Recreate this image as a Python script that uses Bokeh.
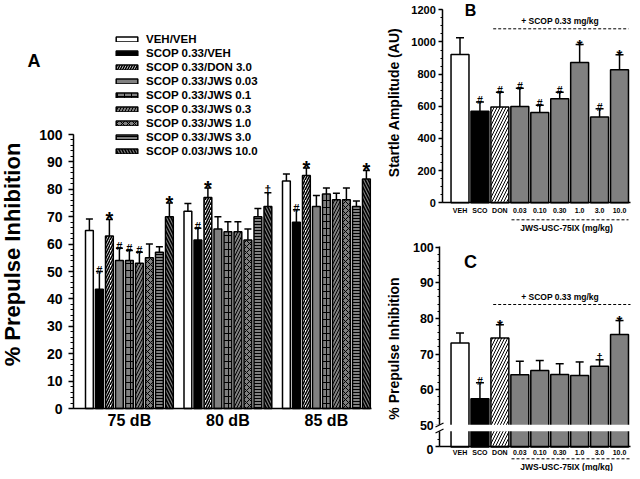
import math
from bokeh.plotting import figure
from bokeh.models import (ColumnDataSource, Range1d, LinearAxis, FixedTicker,
                          SingleIntervalTicker, Whisker, TeeHead, Legend,
                          LegendItem, Label, BoxAnnotation)
from bokeh.layouts import row, column
from bokeh.embed import file_html
from bokeh.resources import INLINE
from bokeh.core.properties import value

FONT = "Liberation Sans"

# ---------------- data ----------------
# Panel A: % prepulse inhibition by prepulse intensity
groups_A = ["75 dB", "80 dB", "85 dB"]
series_A = ["VEH/VEH", "SCOP 0.33/VEH", "SCOP 0.33/DON 3.0", "SCOP 0.33/JWS 0.03",
            "SCOP 0.33/JWS 0.1", "SCOP 0.33/JWS 0.3", "SCOP 0.33/JWS 1.0",
            "SCOP 0.33/JWS 3.0", "SCOP 0.03/JWS 10.0"]
ppi_75 = [65.0, 43.5, 63.0, 54.0, 54.0, 53.0, 55.0, 57.0, 70.0]
sem_75 = [4.2, 6.5, 6.0, 4.5, 3.7, 4.0, 5.0, 2.0, 5.0]
ppi_80 = [72.0, 61.5, 77.0, 65.5, 64.5, 64.5, 61.5, 70.0, 73.7]
sem_80 = [2.8, 4.3, 3.5, 4.5, 3.7, 3.7, 4.0, 3.0, 5.0]
ppi_85 = [83.0, 68.0, 85.0, 73.7, 78.3, 76.2, 76.2, 73.7, 83.8]
sem_85 = [2.6, 4.5, 2.8, 4.0, 2.2, 2.4, 4.3, 2.0, 3.1]
marks_75 = ["", "#", "*", "#", "#", "#", "", "", "*"]
marks_80 = ["", "#", "*", "", "", "", "", "", "\u2020"]
marks_85 = ["", "#", "*", "", "", "", "", "", "*"]

# Panels B and C
doses = ["VEH", "SCO", "DON", "0.03", "0.10", "0.30", "1.0", "3.0", "10.0"]
startle = [922, 570, 595, 599, 562, 647, 873, 533, 827]
startle_sem = [104, 56, 93, 114, 45, 41, 112, 52, 93]
marks_B = ["", "#", "#", "#", "#", "#", "*", "#", "*"]
ppi_C = [73.1, 57.5, 74.5, 64.2, 65.4, 64.3, 64.0, 66.6, 75.5]
sem_C = [2.8, 4.5, 3.7, 3.8, 2.8, 3.0, 3.8, 1.8, 3.9]
marks_C = ["", "#", "*", "", "", "", "", "\u2020", "*"]

scop_note = "+ SCOP 0.33 mg/kg"
jws_note = "JWS-USC-75IX (mg/kg)"

# ---------------- styles ----------------
GRAY = "#808080"
NOH = dict(hatch_pattern=None)
STYLE_A = [
    dict(fill_color="white", **NOH),
    dict(fill_color="black", **NOH),
    dict(fill_color="white", hatch_pattern="/", hatch_scale=5, hatch_weight=1.6),
    dict(fill_color=GRAY, **NOH),
    dict(fill_color=GRAY, hatch_pattern="+", hatch_scale=7, hatch_weight=1),
    dict(fill_color=GRAY, hatch_pattern="/", hatch_scale=6, hatch_weight=1),
    dict(fill_color=GRAY, hatch_pattern="x", hatch_scale=6, hatch_weight=1),
    dict(fill_color=GRAY, hatch_pattern="-", hatch_scale=3, hatch_weight=1),
    dict(fill_color=GRAY, hatch_pattern="\\", hatch_scale=6, hatch_weight=1.6),
]
STYLE_BC = [dict(fill_color="white", **NOH), dict(fill_color="black", **NOH),
            dict(fill_color="white", hatch_pattern="/", hatch_scale=6, hatch_weight=1)] + \
           [dict(fill_color=GRAY, **NOH)] * 6


def make_fig(w, h, xr, yr):
    p = figure(width=w, height=h, x_range=Range1d(*xr), y_range=Range1d(*yr),
               x_axis_type=None, y_axis_type=None, output_backend="svg",
               toolbar_location=None, min_border=0)
    p.outline_line_color = None
    return p


def style_axis(ax, size, standoff, tick_out, minor_out):
    ax.axis_line_color = "black"
    ax.axis_line_width = 1.5
    ax.major_tick_line_color = "black" if tick_out > 0 else None
    ax.major_tick_line_width = 1.5
    ax.major_tick_in = 0
    ax.major_tick_out = tick_out
    ax.minor_tick_line_color = "black" if minor_out > 0 else None
    ax.minor_tick_line_width = 1
    ax.minor_tick_in = 0
    ax.minor_tick_out = minor_out
    ax.major_label_text_font = FONT
    ax.major_label_text_font_style = "bold"
    ax.major_label_text_font_size = size
    ax.major_label_text_color = "black"
    ax.major_label_standoff = standoff


def add_whiskers(p, xs, lows, highs, cap):
    src = ColumnDataSource(dict(base=xs, lower=lows, upper=highs))
    p.add_layout(Whisker(source=src, base="base", lower="lower", upper="upper",
                         dimension="height", line_color="black", line_width=1.5,
                         upper_head=TeeHead(size=cap, line_color="black", line_width=1.5),
                         lower_head=None))


def add_marks(p, xs, tops, marks, sizes):
    for sym, (fs, dy) in sizes.items():
        idx = [k for k, m in enumerate(marks) if m == sym]
        if not idx:
            continue
        src = ColumnDataSource(dict(x=[xs[k] for k in idx], y=[tops[k] for k in idx],
                                    t=[sym] * len(idx)))
        p.text(x="x", y="y", text="t", source=src, text_align="center",
               text_baseline="alphabetic", y_offset=dy, text_color="black",
               text_font=value(FONT), text_font_style="bold",
               text_font_size=value(f"{fs}px"))


def add_text(p, x, y, text, size, angle=0.0, align="center"):
    p.add_layout(Label(x=x, y=y, text=text, angle=angle, text_align=align,
                       text_baseline="middle", text_font=FONT, text_font_style="bold",
                       text_font_size=size, text_color="black"))


# ================= Panel A =================
def a_x(rx):
    return (rx - 88.9) / 10.0


def a_y(ry):
    return (408.0 - ry) / 2.74


GROUP_STEP = 9.85
W_A, H_A = 380, 471
pA = make_fig(W_A, H_A, (a_x(0), a_x(W_A)), (a_y(H_A), a_y(0)))

vals_A = [ppi_75, ppi_80, ppi_85]
sems_A = [sem_75, sem_80, sem_85]
mks_A = [marks_75, marks_80, marks_85]
items = []
all_x, all_lo, all_hi, all_mk = [], [], [], []
for i, name in enumerate(series_A):
    xs = [g * GROUP_STEP + i for g in range(len(groups_A))]
    tops = [vals_A[g][i] for g in range(len(groups_A))]
    src = ColumnDataSource(dict(x=xs, top=tops))
    r = pA.vbar(x="x", top="top", bottom=0, width=0.78, source=src,
                line_color="black", line_width=1.5, hatch_color="black", **STYLE_A[i])
    items.append(LegendItem(label=name, renderers=[r]))
    for g in range(len(groups_A)):
        all_x.append(xs[g])
        all_lo.append(tops[g])
        all_hi.append(tops[g] + sems_A[g][i])
        all_mk.append(mks_A[g][i])

add_whiskers(pA, all_x, all_lo, all_hi, 7)
add_marks(pA, all_x, all_hi, all_mk, {"*": (20, 0), "#": (11, -2), "\u2020": (12, -3)})

legA = Legend(items=items, location=(113, 314), orientation="vertical",
              glyph_width=27, glyph_height=6, label_height=12, spacing=2,
              padding=0, margin=0, border_line_color=None, background_fill_alpha=0,
              label_standoff=6, label_text_font=FONT, label_text_font_style="bold",
              label_text_font_size="11.5px", label_text_color="black")
pA.add_layout(legA, "center")

yA = LinearAxis(fixed_location=a_x(73), bounds=(0, 100),
                ticker=SingleIntervalTicker(interval=10, num_minor_ticks=5))
style_axis(yA, "14px", standoff=6, tick_out=5, minor_out=3)
pA.add_layout(yA, "left")

centers_A = [g * GROUP_STEP + (len(series_A) - 1) / 2 for g in range(len(groups_A))]
xA = LinearAxis(fixed_location=0, bounds=(a_x(73), a_x(371)),
                ticker=FixedTicker(ticks=centers_A),
                major_label_overrides={c: lab for c, lab in zip(centers_A, groups_A)})
style_axis(xA, "16px", standoff=3, tick_out=0, minor_out=0)
pA.add_layout(xA, "below")

add_text(pA, a_x(12), a_y(254), "% Prepulse Inhibition", "22px", angle=math.pi / 2)
add_text(pA, a_x(33.5), a_y(60), "A", "18px")


# ================= Panel B =================
def b_x(rx):
    return (rx - 459.5) / 19.94


def b_y(ry):
    return (202.3 - ry) * 1200.0 / (202.3 - 9.3)


X0_BC = 380
W_BC, H_B, H_C = 252, 240, 231
pB = make_fig(W_BC, H_B, (b_x(X0_BC), b_x(X0_BC + W_BC)), (b_y(H_B), b_y(0)))
xs_B = list(range(len(doses)))
for i in xs_B:
    src = ColumnDataSource(dict(x=[i], top=[startle[i]]))
    pB.vbar(x="x", top="top", bottom=0, width=0.9, source=src, line_color="black",
            line_width=1.5, hatch_color="black", **STYLE_BC[i])
hi_B = [v + e for v, e in zip(startle, startle_sem)]
add_whiskers(pB, xs_B, startle, hi_B, 8)
add_marks(pB, xs_B, hi_B, marks_B, {"*": (15, 0), "#": (10.5, -2), "\u2020": (11, -3)})

yB = LinearAxis(fixed_location=b_x(442.3), bounds=(0, 1200),
                ticker=SingleIntervalTicker(interval=200, num_minor_ticks=4))
style_axis(yB, "11px", standoff=3, tick_out=4, minor_out=2)
pB.add_layout(yB, "left")
xB = LinearAxis(fixed_location=0, bounds=(b_x(442.3), b_x(630)),
                ticker=FixedTicker(ticks=xs_B),
                major_label_overrides={i: d for i, d in zip(xs_B, doses)})
style_axis(xB, "7px", standoff=4, tick_out=0, minor_out=0)
pB.add_layout(xB, "below")

add_text(pB, b_x(470), b_y(10), "B", "16px")
add_text(pB, b_x(559.5), b_y(20.7), scop_note, "8.5px")
pB.line(x=[b_x(492.7), b_x(628)], y=[b_y(28.3)] * 2, line_color="black",
        line_width=1, line_dash="3 2")
pB.line(x=[b_x(511), b_x(628)], y=[b_y(219.3)] * 2, line_color="black",
        line_width=1, line_dash="3 2")
add_text(pB, b_x(566), b_y(227.5), jws_note, "8.5px")
add_text(pB, b_x(393), b_y(102), "Startle Amplitude (AU)", "14px", angle=math.pi / 2)


# ================= Panel C =================
def c_y(ry):
    return 50 + (425.0 - ry) / 3.57


Y0_C = 240
ZERO_C = 44.0  # display position of 0 below the axis break
pC = make_fig(W_BC, H_C, (b_x(X0_BC), b_x(X0_BC + W_BC)), (c_y(Y0_C + H_C), c_y(Y0_C)))
for i in xs_B:
    src = ColumnDataSource(dict(x=[i], top=[ppi_C[i]]))
    pC.vbar(x="x", top="top", bottom=ZERO_C, width=0.9, source=src, line_color="black",
            line_width=1.5, hatch_color="black", **STYLE_BC[i])
hi_C = [v + e for v, e in zip(ppi_C, sem_C)]
add_whiskers(pC, xs_B, ppi_C, hi_C, 8)
add_marks(pC, xs_B, hi_C, marks_C, {"*": (15, 0), "#": (10.5, -2), "\u2020": (11, -3)})

ticks_C = [ZERO_C, 50.0, 60.0, 70.0, 80.0, 90.0, 100.0]
minor_C = [float(m) for m in range(52, 100, 2) if m % 10] + [46.0]
yC = LinearAxis(fixed_location=b_x(439.3), bounds=(ZERO_C - 0.01, 100.01),
                ticker=FixedTicker(ticks=ticks_C, minor_ticks=minor_C),
                major_label_overrides={ZERO_C: ""})
style_axis(yC, "12.5px", standoff=2, tick_out=4, minor_out=2)
pC.add_layout(yC, "left")
xC = LinearAxis(fixed_location=ZERO_C, bounds=(b_x(439.3), b_x(630)),
                ticker=FixedTicker(ticks=xs_B),
                major_label_overrides={i: d for i, d in zip(xs_B, doses)})
style_axis(xC, "7px", standoff=2, tick_out=0, minor_out=0)
pC.add_layout(xC, "below")
# the zero label below the axis break
add_text(pC, b_x(433), c_y(449), "0", "12.5px", align="right")

# axis break
pC.add_layout(BoxAnnotation(left=b_x(433), right=b_x(632), bottom=c_y(430.7), top=c_y(424.3),
                            fill_color="white", fill_alpha=1, line_color=None))
pC.segment(x0=[b_x(435)] * 2, y0=[c_y(426.5), c_y(432.5)], x1=[b_x(443)] * 2,
           y1=[c_y(422.5), c_y(428.5)], line_color="black", line_width=1.2, level="overlay")

add_text(pC, b_x(470), c_y(261.5), "C", "18px")
add_text(pC, b_x(559.5), c_y(296.7), scop_note, "8.5px")
pC.line(x=[b_x(492.7), b_x(630)], y=[c_y(304)] * 2, line_color="black",
        line_width=1, line_dash="3 2")
pC.line(x=[b_x(511), b_x(630)], y=[c_y(458.3)] * 2, line_color="black",
        line_width=1, line_dash="3 2")
add_text(pC, b_x(566), c_y(466.5), jws_note, "8.5px")
add_text(pC, b_x(393), c_y(348), "% Prepulse Inhibition", "14px", angle=math.pi / 2)

layout = row(pA, column(pB, pC))
open("out.html", "w").write(file_html(layout, INLINE))
